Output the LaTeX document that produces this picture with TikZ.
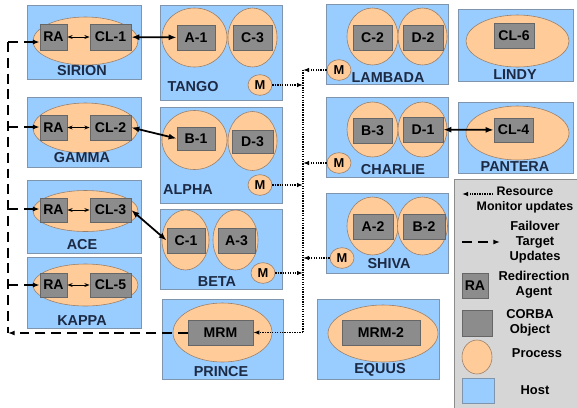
\documentclass[tikz,border=0pt]{standalone}
\usepackage{fontspec}
\setmainfont{Liberation Sans}
\usepackage{tikz}
\usetikzlibrary{arrows.meta,calc,positioning,shapes.geometric}
\definecolor{hostfill}{HTML}{99CCFF}
\definecolor{hostline}{HTML}{7F95AE}
\definecolor{procfill}{HTML}{FFCC99}
\definecolor{procline}{HTML}{9A7F68}
\definecolor{objfill}{HTML}{8C8C8C}
\definecolor{objline}{HTML}{666666}
\definecolor{legfill}{HTML}{D6D6D6}
\definecolor{legline}{HTML}{8C8C8C}
\definecolor{lbl}{HTML}{1C2A44}

\begin{document}
\begin{tikzpicture}[x=0.03cm,y=-0.03cm,
      host/.style={draw=hostline,fill=hostfill,line width=0.6pt,inner sep=0pt,minimum width=3.66cm,minimum height=2.4cm},
      proc/.style={ellipse,draw=procline,fill=procfill,line width=0.5pt,inner sep=0pt},
      obj/.style={draw=objline,fill=objfill,line width=0.6pt,inner sep=0pt,minimum height=0.75cm,font=\bfseries\fontsize{12}{12}\selectfont},
      mon/.style={proc,minimum width=0.72cm,minimum height=0.62cm,font=\bfseries\fontsize{11}{11}\selectfont},
      hostlbl/.style={text=lbl,inner sep=0pt,font=\bfseries\fontsize{12.3}{12.3}\selectfont},
      legtext/.style={align=center,inner sep=0pt,font=\bfseries\fontsize{11}{12.8}\selectfont},
      link/.style={{Latex[length=2.4mm]}-{Latex[length=2.4mm]},line width=1.5pt},
      ralink/.style={{Stealth[length=1.6mm,open]}-{Stealth[length=1.6mm,open]},line width=0.6pt},
      failover/.style={-{Latex[length=2mm]},line width=1.4pt,dash pattern=on 8.5pt off 5pt},
      monitor/.style={-{Latex[length=1.8mm]},line width=1.1pt,densely dotted}
    ]
      \useasboundingbox (0,0) rectangle (577,407);

      % hosts
      \node[host,minimum width=3.42cm,minimum height=2.22cm] (sirion) at (84,42) {};
      \node[host,minimum width=3.42cm,minimum height=2.1cm] (gamma) at (84,132) {};
      \node[host,minimum width=3.42cm,minimum height=2.19cm] (ace) at (84,216.5) {};
      \node[host,minimum width=3.42cm,minimum height=2.13cm] (kappa) at (84,292.5) {};
      \node[host,minimum height=2.85cm] (tango) at (221,52.5) {};
      \node[host,minimum height=2.88cm] (alpha) at (221,155) {};
      \node[host] (beta) at (221,249) {};
      \node[host,minimum width=3.63cm] (prince) at (222.5,339) {};
      \node[host] (lambada) at (387,44) {};
      \node[host] (charlie) at (387,137) {};
      \node[host] (shiva) at (387,233) {};
      \node[host] (equus) at (378,339) {};
      \node[host,minimum width=3.45cm,minimum height=2.16cm] (lindy) at (515.5,45) {};
      \node[host,minimum width=3.45cm,minimum height=2.13cm] (pantera) at (515.5,137.5) {};

      % processes
      \node[proc,minimum width=3.15cm,minimum height=1.44cm] (pSir) at (85.5,41) {};
      \node[proc,minimum width=3.15cm,minimum height=1.5cm] (pGam) at (85.5,128) {};
      \node[proc,minimum width=3.15cm,minimum height=1.23cm] (pAce) at (85.5,211) {};
      \node[proc,minimum width=3.15cm,minimum height=1.26cm] (pKap) at (85.5,285) {};
      \node[proc,minimum width=1.95cm,minimum height=1.77cm] (pTan1) at (194.5,37.5) {};
      \node[proc,minimum width=1.47cm,minimum height=1.77cm] (pTan2) at (252.5,37.5) {};
      \node[proc,minimum width=1.95cm,minimum height=1.77cm] (pAlp1) at (194.5,140) {};
      \node[proc,minimum width=1.47cm,minimum height=1.77cm] (pAlp2) at (252.5,141) {};
      \node[proc,minimum width=1.41cm,minimum height=1.8cm] (pBet1) at (185.5,240) {};
      \node[proc,minimum width=1.35cm,minimum height=1.8cm] (pBet2) at (235.5,240) {};
      \node[proc,minimum width=2.97cm,minimum height=1.77cm] (pPri) at (222.5,332.5) {};
      \node[proc,minimum width=1.53cm,minimum height=1.71cm] (pLam1) at (372.5,36.5) {};
      \node[proc,minimum width=1.47cm,minimum height=1.71cm] (pLam2) at (422.5,36.5) {};
      \node[proc,minimum width=1.53cm,minimum height=1.65cm] (pCha1) at (372.5,129.5) {};
      \node[proc,minimum width=1.47cm,minimum height=1.65cm] (pCha2) at (422.5,129.5) {};
      \node[proc,minimum width=1.53cm,minimum height=1.74cm] (pShi1) at (372.5,226) {};
      \node[proc,minimum width=1.5cm,minimum height=1.74cm] (pShi2) at (422.5,226) {};
      \node[proc,minimum width=3.3cm,minimum height=1.71cm] (pEqu) at (383,333.5) {};
      \node[proc,minimum width=3.09cm,minimum height=1.56cm] (pLin) at (517.5,41) {};
      \node[proc,minimum width=3.09cm,minimum height=1.62cm] (pPan) at (517.5,133) {};

      % monitors
      \node[mon] (mTan) at (260,85) {M};
      \node[mon] (mAlp) at (260,185) {M};
      \node[mon] (mBet) at (263,273) {M};
      \node[mon] (mLam) at (339,70) {M};
      \node[mon] (mCha) at (339,163) {M};
      \node[mon] (mShi) at (342,258) {M};

      % objects
      \node[obj,minimum width=0.81cm,minimum height=0.78cm] (raSir) at (53.5,37) {RA};
      \node[obj,minimum width=1.23cm,minimum height=0.78cm] (cl1) at (110.5,37) {CL-1};
      \node[obj,minimum width=0.81cm,minimum height=0.75cm] (raGam) at (53.5,127.5) {RA};
      \node[obj,minimum width=1.23cm] (cl2) at (110.5,127.5) {CL-2};
      \node[obj,minimum width=0.81cm,minimum height=0.72cm] (raAce) at (53.5,210) {RA};
      \node[obj,minimum width=1.23cm,minimum height=0.72cm] (cl3) at (110.5,210) {CL-3};
      \node[obj,minimum width=0.81cm,minimum height=0.72cm] (raKap) at (53.5,285) {RA};
      \node[obj,minimum width=1.23cm,minimum height=0.72cm] (cl5) at (110.5,285) {CL-5};
      \node[obj,minimum width=1.14cm] (a1) at (196,37.5) {A-1};
      \node[obj,minimum width=1.17cm] (c3) at (252.5,37.5) {C-3};
      \node[obj,minimum width=1.14cm,minimum height=0.69cm] (b1) at (196,138.5) {B-1};
      \node[obj,minimum width=1.23cm,minimum height=0.69cm] (d3) at (252.5,141.5) {D-3};
      \node[obj,minimum width=1.14cm] (c1) at (186,240.5) {C-1};
      \node[obj,minimum width=1.11cm] (a3) at (236.5,240.5) {A-3};
      \node[obj,minimum width=1.95cm] (mrm) at (220.5,332.5) {MRM};
      \node[obj,minimum width=1.17cm] (c2) at (372.5,37.5) {C-2};
      \node[obj,minimum width=1.2cm] (d2) at (423,37.5) {D-2};
      \node[obj,minimum width=1.17cm] (b3) at (372.5,130.5) {B-3};
      \node[obj,minimum width=1.2cm] (d1) at (423,129.5) {D-1};
      \node[obj,minimum width=1.2cm] (a2) at (373,226.5) {A-2};
      \node[obj,minimum width=1.26cm] (b2) at (424,226.5) {B-2};
      \node[obj,minimum width=2.34cm] (mrm2) at (381,332.5) {MRM-2};
      \node[obj,minimum width=1.2cm] (cl6) at (514,35.5) {CL-6};
      \node[obj,minimum width=1.17cm,minimum height=0.72cm] (cl4) at (513.5,130) {CL-4};

      % host names
      \node[hostlbl] (lSir) at (82,71) {SIRION};
      \node[hostlbl] (lGam) at (82,158) {GAMMA};
      \node[hostlbl] (lAce) at (82,245) {ACE};
      \node[hostlbl] (lKap) at (82,321) {KAPPA};
      \node[hostlbl] (lTan) at (193,87) {TANGO};
      \node[hostlbl] (lAlp) at (188,190) {ALPHA};
      \node[hostlbl] (lBet) at (217,282) {BETA};
      \node[hostlbl] (lPri) at (221,372) {PRINCE};
      \node[hostlbl] (lLam) at (388,78) {LAMBADA};
      \node[hostlbl] (lCha) at (393,170) {CHARLIE};
      \node[hostlbl] (lShi) at (389,264) {SHIVA};
      \node[hostlbl] (lEqu) at (380,370) {EQUUS};
      \node[hostlbl] (lLin) at (515,75) {LINDY};
      \node[hostlbl] (lPan) at (515,167) {PANTERA};

      % client links
      \draw[link] (cl1) -- (a1);
      \draw[link] (cl2.east) -- (b1.west);
      \draw[link] (cl3.east) -- (c1.west);
      \draw[link] (d1) -- (cl4);
      \draw[ralink] (raSir) -- (cl1);
      \draw[ralink] (raGam) -- (cl2);
      \draw[ralink] (raAce) -- (cl3);
      \draw[ralink] (raKap) -- (cl5);

      % failover target updates
      \coordinate (fSir) at (8,42);
      \coordinate (fGam) at (8,127);
      \coordinate (fAce) at (8,209);
      \coordinate (fKap) at (8,285);
      \coordinate (fBot) at (8,333);
      \draw[failover,-] (fSir) -- (fBot);
      \draw[failover] (mrm.west |- fBot) -- (fBot);
      \draw[failover] (fSir) -- (fSir -| raSir.west);
      \draw[failover] (fGam) -- (fGam -| raGam.west);
      \draw[failover] (fAce) -- (fAce -| raAce.west);
      \draw[failover] (fKap) -- (fKap -| raKap.west);

      % resource monitor updates
      \coordinate (mTop) at (303,70);
      \coordinate (mBot) at (303,332.5);
      \draw[monitor,-] (mTop) -- (mBot);
      \draw[monitor] (mLam) -- (mLam -| mTop);
      \draw[monitor] (mTan) -- (mTan -| mTop);
      \draw[monitor] (mCha) -- (mCha -| mTop);
      \draw[monitor] (mAlp) -- (mAlp -| mTop);
      \draw[monitor] (mShi) -- (mShi -| mTop);
      \draw[monitor] (mBet) -- (mBet -| mTop);
      \draw[monitor] (mBot) -- (mrm.east);

      % legend
      \node[draw=legline,fill=legfill,line width=0.6pt,minimum width=4.38cm,minimum height=7.53cm] (legend) at (527,304.5) {};
      \coordinate (kMonA) at (493,194);
      \coordinate (kMonB) at (462,194);
      \draw[monitor] (kMonA) -- (kMonB);
      \node[legtext,font=\bfseries\fontsize{10.6}{12.8}\selectfont] (tMon) at (525,200) {Resource\\Monitor updates};
      \coordinate (kFaiA) at (462,242);
      \coordinate (kFaiB) at (500,242);
      \draw[failover] (kFaiA) -- (kFaiB);
      \node[legtext] (tFai) at (535,242) {Failover\\Target\\Updates};
      \node[obj,minimum width=0.78cm] (kRA) at (475,285.5) {RA};
      \node[legtext] (tRA) at (534,284.5) {Redirection\\Agent};
      \node[obj,minimum width=0.9cm,minimum height=0.78cm] (kObj) at (477,323) {};
      \node[legtext] (tObj) at (530,323) {CORBA\\Object};
      \node[proc,minimum width=0.9cm,minimum height=1.02cm] (kProc) at (477,357) {};
      \node[legtext] (tProc) at (537,353) {Process};
      \node[host,minimum width=0.96cm,minimum height=0.75cm] (kHost) at (478,390.5) {};
      \node[legtext] (tHost) at (535,390) {Host};
    \end{tikzpicture}
\end{document}
